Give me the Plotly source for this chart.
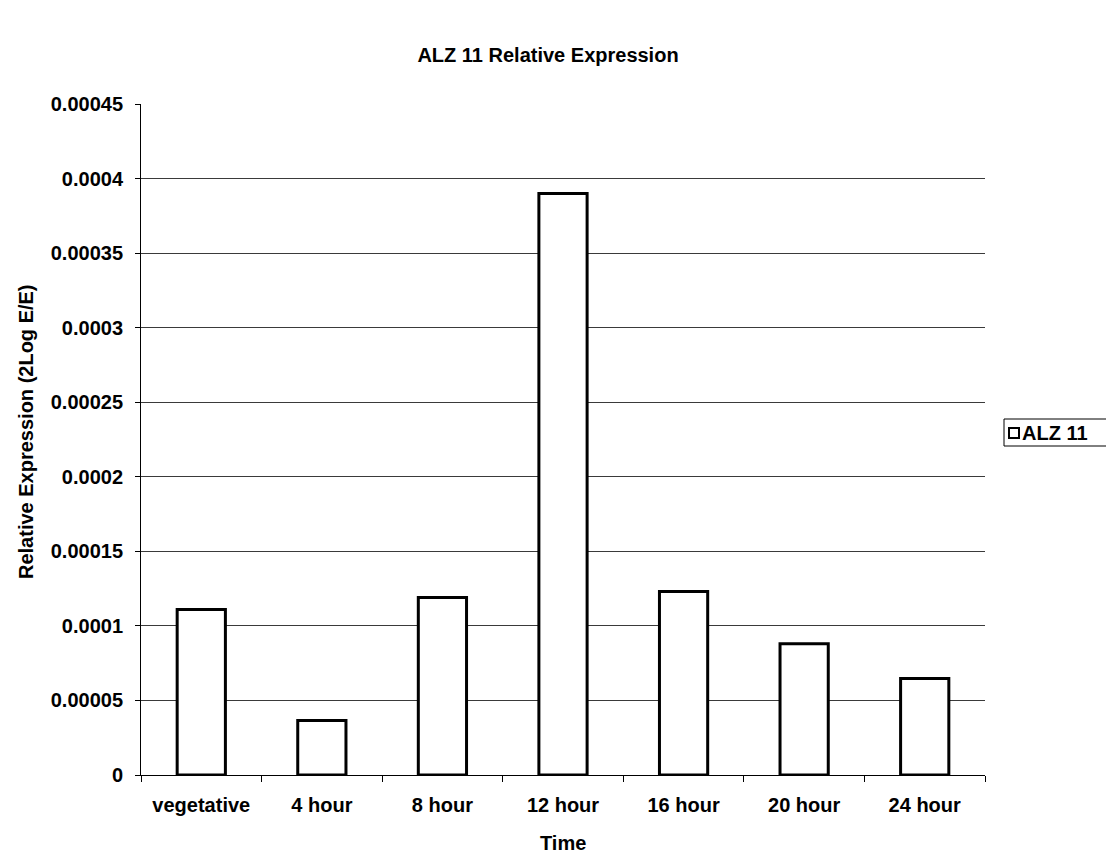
import plotly.graph_objects as go

# Relative expression of ALZ 11 across the time course
categories = ["vegetative", "4 hour", "8 hour", "12 hour", "16 hour", "20 hour", "24 hour"]
expression = [0.000111, 0.0000365, 0.000119, 0.00039, 0.000123, 0.000088, 0.0000647]
series_name = "ALZ 11"

y_tick_values = [0, 0.00005, 0.0001, 0.00015, 0.0002, 0.00025, 0.0003, 0.00035, 0.0004, 0.00045]
y_tick_labels = ["0", "0.00005", "0.0001", "0.00015", "0.0002", "0.00025",
                 "0.0003", "0.00035", "0.0004", "0.00045"]

FONT = "Liberation Sans, Arial, sans-serif"

# plot area in pixels (used to place the key and axis titles around it)
L, R, T, B = 141, 985, 104, 775
W, H = 1106, 854


def px_x(x):
    return (x - L) / (R - L)


def px_y(y):
    return (B - y) / (B - T)


fig = go.Figure()
fig.add_trace(go.Bar(
    x=categories,
    y=expression,
    name=series_name,
    showlegend=False,
    marker=dict(color="white", line=dict(color="black", width=3)),
))

fig.update_layout(
    width=W,
    height=H,
    autosize=False,
    paper_bgcolor="white",
    plot_bgcolor="white",
    margin=dict(l=L, r=W - R, t=T, b=H - B),
    bargap=0.6,
    font=dict(family=FONT, size=20, color="black"),
    title=dict(
        text="<b>ALZ 11 Relative Expression</b>",
        font=dict(family=FONT, size=20, color="black"),
        x=0.4955, xref="container", xanchor="center",
        y=1 - 55 / H, yref="container", yanchor="middle",
    ),
    showlegend=False,
)

# axis titles
fig.add_annotation(xref="paper", yref="paper", x=px_x(563), y=px_y(843),
                   xanchor="center", yanchor="middle", showarrow=False,
                   text="<b>Time</b>", font=dict(family=FONT, size=20, color="black"))
fig.add_annotation(xref="paper", yref="paper", x=px_x(26), y=px_y(432),
                   xanchor="center", yanchor="middle", showarrow=False, textangle=-90,
                   text="<b>Relative Expression (2Log E/E)</b>",
                   font=dict(family=FONT, size=20, color="black"))

# series key to the right of the plot area
fig.add_shape(type="rect", xref="paper", yref="paper",
              x0=px_x(1004), x1=px_x(1120), y0=px_y(446), y1=px_y(419),
              line=dict(color="black", width=1), fillcolor="white", layer="above")
fig.add_shape(type="rect", xref="paper", yref="paper",
              x0=px_x(1009), x1=px_x(1019), y0=px_y(438), y1=px_y(428),
              line=dict(color="black", width=2), fillcolor="white", layer="above")
fig.add_annotation(xref="paper", yref="paper", x=px_x(1020), y=px_y(433),
                   xanchor="left", yanchor="middle", showarrow=False,
                   text=f"<b>{series_name}</b>",
                   font=dict(family=FONT, size=20, color="black"))

fig.update_xaxes(
    type="category",
    automargin=False,
    tickvals=categories,
    ticktext=[f"<b>{c}</b>" for c in categories],
    showline=True, linecolor="black", linewidth=1,
    ticks="outside", tickson="boundaries", ticklen=6, tickcolor="black", tickwidth=1,
    showgrid=False,
    tickfont=dict(family=FONT, size=20, color="black"),
    ticklabelstandoff=12,
)

fig.update_yaxes(
    automargin=False,
    range=[0, 0.00045],
    tickmode="array",
    tickvals=y_tick_values,
    ticktext=[f"<b>{t}</b>" for t in y_tick_labels],
    showline=True, linecolor="black", linewidth=1,
    ticks="outside", ticklen=5, tickcolor="black", tickwidth=1,
    showgrid=True, gridcolor="#3a3a3a", gridwidth=1,
    zeroline=False,
    tickfont=dict(family=FONT, size=20, color="black"),
    ticklabelstandoff=8,
)

fig.write_html("out.html")
